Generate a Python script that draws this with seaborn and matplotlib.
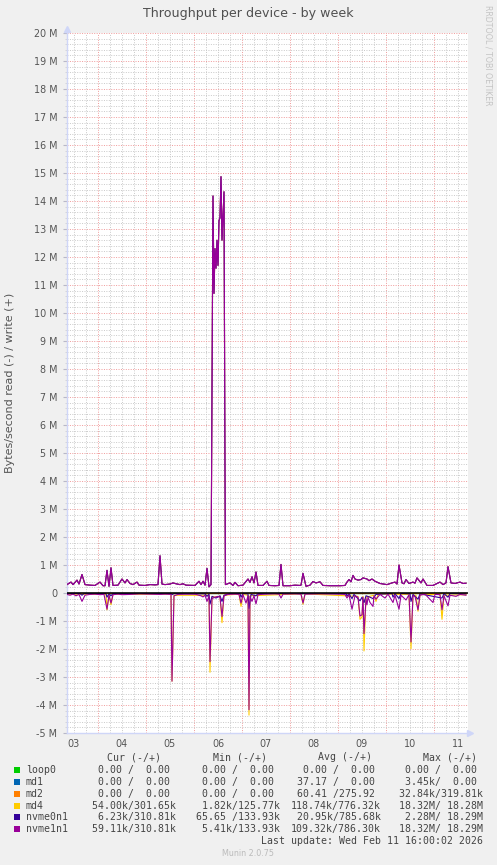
import numpy as np
import pandas as pd
import matplotlib
matplotlib.use("Agg")
import matplotlib.pyplot as plt
import seaborn as sns
from matplotlib.ticker import MultipleLocator, FixedLocator, FuncFormatter, NullFormatter
from matplotlib.patches import Rectangle
from matplotlib.transforms import blended_transform_factory

# ---------------- data ----------------
# time: hours since Feb 03 00:00; values: MB/s (M bytes per second)
devices = ["loop0", "md1", "md2", "md4", "nvme0n1", "nvme1n1"]
colors = ["#00CC00", "#0066B3", "#FF8000", "#FFCC00", "#330099", "#990099"]
day_labels = ["03", "04", "05", "06", "07", "08", "09", "10", "11"]

nvme1n1_write = [
    (8.5, 0.30), (10.5, 0.39), (11.5, 0.30), (13.5, 0.46), (14.5, 0.32), (16, 0.66), (17.5, 0.30),
    (20, 0.28), (22.5, 0.27), (25, 0.39), (26.5, 0.26), (27.5, 0.26), (28.5, 0.81), (29.5, 0.24),
    (30.5, 0.90), (31.5, 0.27), (34, 0.28), (36, 0.50), (37.5, 0.36), (38.5, 0.48), (40, 0.34),
    (41.5, 0.30), (43.5, 0.39), (44.5, 0.28), (47.5, 0.27), (50, 0.30), (52.5, 0.29), (54, 0.30),
    (55, 1.33), (56, 0.32), (57.5, 0.30), (60, 0.32), (61.5, 0.36), (63, 0.33), (65, 0.30),
    (66.5, 0.33), (68, 0.28), (72.5, 0.27), (74.5, 0.42), (75.5, 0.30), (76.5, 0.42), (77.5, 0.28),
    (78.5, 0.88), (79.5, 0.22), (80.5, 0.30), (81.5, 14.18), (82, 10.70), (82.5, 12.30), (83, 11.60),
    (83.5, 12.60), (84, 11.70), (84.5, 13.30), (85, 13.40), (85.5, 14.87), (86, 12.60), (87, 14.33),
    (87.7, 0.30), (90, 0.36), (91.5, 0.27), (92.5, 0.38), (94, 0.26), (96.5, 0.28), (99, 0.50),
    (100, 0.38), (101, 0.58), (102, 0.36), (103, 0.75), (104, 0.27), (106.5, 0.27), (108.5, 0.42),
    (109.5, 0.27), (112.5, 0.26), (114.5, 0.27), (115.5, 1.02), (116.5, 0.26), (120, 0.26),
    (122.5, 0.28), (125, 0.27), (125.5, 0.28), (126.5, 0.70), (128, 0.24), (130, 0.28),
    (131.5, 0.41), (133, 0.36), (135, 0.40), (136.5, 0.27), (140, 0.26), (145, 0.26), (147.5, 0.27),
    (148.5, 0.39), (149.5, 0.48), (150.5, 0.40), (151.5, 0.63), (152.5, 0.50), (154, 0.46),
    (155.5, 0.48), (156.5, 0.54), (158.5, 0.50), (159.5, 0.44), (161, 0.50), (162.5, 0.42),
    (165, 0.34), (168.5, 0.30), (171, 0.36), (172.5, 0.39), (173.5, 0.32), (174.5, 1.00),
    (176, 0.36), (177, 0.33), (178, 0.48), (179.5, 0.34), (181.5, 0.39), (182.5, 0.35),
    (183.5, 0.54), (185.5, 0.36), (186.5, 0.50), (188.5, 0.27), (191.5, 0.27), (195, 0.39),
    (196.5, 0.30), (198, 0.36), (199, 0.94), (200.5, 0.36), (202.5, 0.34), (205, 0.39),
    (206.5, 0.34), (208, 0.35),
]
nvme0n1_write = nvme1n1_write
md4_write = nvme1n1_write

nvme1n1_read = [
    (8.5, 0.05), (10, 0.08), (11.5, 0.04), (13, 0.10), (14.5, 0.05), (16, 0.30), (17.5, 0.08),
    (20, 0.05), (22.5, 0.04), (25, 0.06), (27, 0.05), (28.5, 0.58), (29.5, 0.08), (30.5, 0.36),
    (31.5, 0.06), (34, 0.04), (36, 0.06), (40, 0.05), (45, 0.03), (50, 0.04), (55, 0.05),
    (57.5, 0.04), (60.5, 0.05), (61, 3.15), (62, 0.10), (64, 0.05), (67.5, 0.04), (72.5, 0.04),
    (75.5, 0.10), (76.5, 0.14), (77.5, 0.08), (78.5, 0.30), (79.5, 0.10), (80, 2.45), (81, 0.20),
    (82.5, 0.15), (84, 0.12), (85, 0.15), (86, 0.84), (87, 0.10), (89, 0.05), (92.5, 0.04),
    (94.5, 0.05), (95.5, 0.36), (96.5, 0.06), (98, 0.36), (99, 0.10), (99.5, 4.17), (100, 0.12),
    (101, 0.30), (102, 0.10), (103, 0.39), (104, 0.06), (107.5, 0.04), (112.5, 0.03), (114.5, 0.04),
    (115.5, 0.18), (116.5, 0.04), (122.5, 0.03), (125.5, 0.04), (126.5, 0.36), (127.5, 0.04),
    (135, 0.03), (145, 0.04), (147.5, 0.05), (148.5, 0.18), (149.5, 0.06), (151, 0.58),
    (152.5, 0.10), (154, 0.15), (155, 0.82), (156, 0.78), (156.5, 0.15), (157, 1.45), (158, 0.20),
    (158.5, 0.42), (159, 0.15), (160, 0.34), (161.5, 0.48), (162, 0.10), (163, 0.22), (165, 0.05),
    (167.5, 0.18), (169, 0.04), (171.5, 0.34), (172.5, 0.08), (174.5, 0.58), (175.5, 0.08),
    (178, 0.25), (179.5, 0.06), (180.5, 1.75), (181.5, 0.10), (182.5, 0.12), (184, 0.60),
    (185, 0.08), (187.5, 0.04), (191.5, 0.34), (192.5, 0.05), (195, 0.06), (196, 0.60),
    (197, 0.10), (199, 0.46), (200, 0.08), (203, 0.12), (205, 0.05), (208, 0.08),
]

md4_read = [
    (8.5, 0.04), (28, 0.05), (28.5, 0.60), (29.5, 0.08), (30.5, 0.42), (31.5, 0.05), (60.5, 0.04),
    (61, 3.15), (62, 0.08), (79.5, 0.08), (80, 2.83), (81, 0.15), (85, 0.12), (86, 1.06), (87, 0.08),
    (94.5, 0.04), (95.5, 0.48), (96.5, 0.05), (99, 0.08), (99.5, 4.36), (100, 0.10), (125.5, 0.03),
    (126.5, 0.40), (127.5, 0.03), (154, 0.12), (155, 0.94), (156, 0.86), (156.5, 0.12), (157, 2.07),
    (158, 0.15), (162, 0.08), (163, 0.30), (164, 0.04), (179.5, 0.05), (180.5, 1.99), (181.5, 0.08),
    (183, 0.08), (184, 0.65), (185, 0.06), (195, 0.05), (196, 0.94), (197, 0.08), (208, 0.06),
]

nvme0n1_read = [
    (8.5, 0.02), (15, 0.02), (16, 0.08), (17, 0.02), (28, 0.02), (28.5, 0.15), (29.5, 0.03),
    (30.5, 0.10), (31.5, 0.02), (60.5, 0.02), (61, 0.06), (62, 0.02), (77.5, 0.03), (78.5, 0.12),
    (79.5, 0.04), (80, 0.40), (81, 0.12), (83, 0.18), (85, 0.10), (86, 0.30), (87, 0.08), (90, 0.02),
    (95, 0.02), (95.5, 0.15), (96.5, 0.02), (99, 0.03), (99.5, 0.55), (100.5, 0.05), (103, 0.10),
    (104, 0.02), (148, 0.02), (148.5, 0.10), (149.5, 0.03), (151, 0.20), (152, 0.05), (155, 0.28),
    (156, 0.15), (157, 0.35), (158, 0.10), (160, 0.15), (161.5, 0.20), (163, 0.05), (171, 0.02),
    (171.5, 0.15), (172.5, 0.02), (174.5, 0.20), (175.5, 0.02), (180, 0.03), (180.5, 0.30),
    (181.5, 0.05), (184, 0.22), (185, 0.03), (196, 0.18), (197, 0.02), (199, 0.15), (200, 0.02),
    (208, 0.03),
]

zero_series = [(8.5, 0.0), (208, 0.0)]
loop0_read = loop0_write = zero_series
md1_read = md1_write = zero_series
md2_read = md2_write = zero_series

series = {
    "loop0": (loop0_read, loop0_write),
    "md1": (md1_read, md1_write),
    "md2": (md2_read, md2_write),
    "md4": (md4_read, md4_write),
    "nvme0n1": (nvme0n1_read, nvme0n1_write),
    "nvme1n1": (nvme1n1_read, nvme1n1_write),
}

cur_vals = ["  0.00 /  0.00 ", "  0.00 /  0.00 ", "  0.00 /  0.00 ", " 54.00k/301.65k", "  6.23k/310.81k", " 59.11k/310.81k"]
min_vals = ["  0.00 /  0.00 ", "  0.00 /  0.00 ", "  0.00 /  0.00 ", "  1.82k/125.77k", " 65.65 /133.93k", "  5.41k/133.93k"]
avg_vals = ["  0.00 /  0.00 ", " 37.17 /  0.00 ", " 60.41 /275.92 ", "118.74k/776.32k", " 20.95k/785.68k", "109.32k/786.30k"]
max_vals = ["  0.00 /  0.00 ", "  3.45k/  0.00 ", " 32.84k/319.81k", " 18.32M/ 18.28M", "  2.28M/ 18.29M", " 18.32M/ 18.29M"]

# ---------------- figure ----------------
W, H = 497, 865
BG = "#F0F0F0"
AXC = "#CFD6F8"
TXT = "#555555"
MONO = "DejaVu Sans Mono"

def fx(x):
    return x / W

def fy(y):
    return 1 - y / H

fig = plt.figure(figsize=(W / 100, H / 100), dpi=100, facecolor=BG)
ax = fig.add_axes([fx(67), fy(733), (468 - 67) / W, (733 - 33) / H])
ax.set_facecolor("white")
ax.set_axisbelow(True)

for name, col in zip(devices, colors):
    rd, wr = series[name]
    rdf = pd.DataFrame(rd, columns=["t", "v"])
    wdf = pd.DataFrame(wr, columns=["t", "v"])
    rdf["v"] = -rdf["v"]
    sns.lineplot(data=rdf, x="t", y="v", color=col, linewidth=0.8, ax=ax,
                 estimator=None, sort=False, zorder=3)
    sns.lineplot(data=wdf, x="t", y="v", color=col, linewidth=0.8, ax=ax,
                 estimator=None, sort=False, zorder=3)

ax.axhline(0, color="black", lw=1.1, zorder=6)

ax.set_xlim(8.5, 209)
ax.set_ylim(-5, 20)
ax.set_xlabel("")
ax.set_ylabel("")

# grid
ax.xaxis.set_major_locator(MultipleLocator(24))
ax.xaxis.set_minor_locator(MultipleLocator(6))
ax.xaxis.set_major_formatter(NullFormatter())
ax.yaxis.set_major_locator(MultipleLocator(1))
ax.yaxis.set_minor_locator(MultipleLocator(0.2))
ax.yaxis.set_major_formatter(FuncFormatter(lambda v, p: "0" if abs(v) < 1e-9 else f"{v:.0f} M"))

grey = dict(color="#C9C9C9", linestyle=(0, (1, 1.5)), linewidth=0.7)
red = dict(color="#F09A9A", linestyle=(0, (1, 1.5)), linewidth=0.7)
ax.xaxis.grid(True, which="minor", **grey)
ax.yaxis.grid(True, which="minor", **grey)
ax.xaxis.grid(True, which="major", **red)
ax.yaxis.grid(True, which="major", **red)

ax.tick_params(axis="x", which="both", length=0)
ax.tick_params(axis="y", which="major", length=3, color="#B8B8C8", labelsize=6.9,
               labelcolor=TXT, pad=4)
ax.tick_params(axis="y", which="minor", length=1.5, color="#D0D0D8")

for s in ["top", "right"]:
    ax.spines[s].set_visible(False)
for s in ["left", "bottom"]:
    ax.spines[s].set_color(AXC)
    ax.spines[s].set_linewidth(1.0)

# axis arrows
ax.plot([0], [1.006], marker="^", ms=4, color=AXC, transform=ax.transAxes, clip_on=False, zorder=7)
ax.plot([1.006], [0], marker=">", ms=4, color=AXC, transform=ax.transAxes, clip_on=False, zorder=7)

# day labels at noon
trans = blended_transform_factory(ax.transData, ax.transAxes)
for i, d in enumerate(day_labels):
    ax.text(12 + 24 * i, -0.009, d, transform=trans, ha="center", va="top",
            fontsize=6.9, color=TXT)

# texts
fig.text(fx(248), fy(13.3), "Throughput per device - by week", ha="center", va="center",
         fontsize=9.1, color="#505050")
fig.text(fx(10), fy(383), "Bytes/second read (-) / write (+)", rotation=90,
         ha="center", va="center", fontsize=8.0, color=TXT)
fig.text(fx(488), fy(5), "RRDTOOL / TOBI OETIKER", rotation=270, ha="center", va="top",
         fontsize=5.7, color="#C4C4C4")

# legend
LS = 7.14
for lx, h in zip([107, 213, 318, 423], ["Cur (-/+)", "Min (-/+)", "Avg (-/+)", "Max (-/+)"]):
    fig.text(fx(lx), fy(757), h, ha="left", va="center", family=MONO, fontsize=LS, color="#444444")

cw = 0.602 * LS * 100 / 72
col_right = [176, 279.3, 380.7, 482.7]
for i, (name, col) in enumerate(zip(devices, colors)):
    yc = 770 + 11.85 * i
    fig.add_artist(Rectangle((fx(14), fy(yc + 3)), 6 / W, 6 / H, transform=fig.transFigure,
                             facecolor=col, edgecolor="none"))
    fig.text(fx(26), fy(yc), name, ha="left", va="center", family=MONO, fontsize=LS, color="#444444")
    for cr, vals in zip(col_right, [cur_vals, min_vals, avg_vals, max_vals]):
        s = vals[i]
        fig.text(fx(cr - len(s) * cw), fy(yc), s, ha="left", va="center", family=MONO,
                 fontsize=LS, color="#444444")

fig.text(fx(483), fy(841), "Last update: Wed Feb 11 16:00:02 2026", ha="right", va="center",
         family=MONO, fontsize=LS, color="#444444")
fig.text(fx(248), fy(854), "Munin 2.0.75", ha="center", va="center", fontsize=5.8, color="#BBBBBB")

fig.savefig("out.png", dpi=100, facecolor=BG)
